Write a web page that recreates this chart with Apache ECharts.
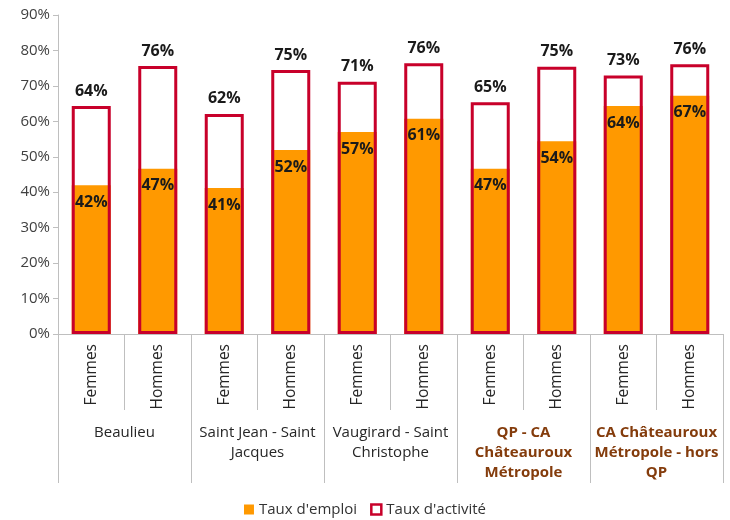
<!DOCTYPE html>
<html>
<head>
<meta charset="utf-8">
<script src="https://cdn.jsdelivr.net/npm/echarts@6/dist/echarts.min.js"></script>
<style>
  html, body { margin: 0; padding: 0; background: #fff; }
  #chart { width: 730px; height: 520px; }
</style>
</head>
<body>
<div id="chart"></div>
<script>
// sous-catégories (une barre chacune)
var sexes = ['Femmes', 'Hommes', 'Femmes', 'Hommes', 'Femmes', 'Hommes', 'Femmes', 'Hommes', 'Femmes', 'Hommes'];
// regroupements
var zones = ['Beaulieu', 'Saint Jean - Saint\nJacques', 'Vaugirard - Saint\nChristophe', 'QP - CA\nChâteauroux\nMétropole', 'CA Châteauroux\nMétropole - hors\nQP'];
var zonesEnGras = [false, false, false, true, true];

var tauxEmploi = [42.0, 46.6, 41.2, 51.9, 57.0, 60.7, 46.6, 54.4, 64.3, 67.2];
var tauxActivite = [64.3, 75.6, 62.1, 74.5, 71.2, 76.4, 65.4, 75.4, 72.9, 76.1];

var ORANGE = '#FF9900';
var ROUGE = '#C8002A';
var GRIS = '#BFBFBF';
var FONT = '"Open Sans", "Noto Sans", sans-serif';

var myChart = echarts.init(document.getElementById('chart'));

var option = {
  animation: false,
  textStyle: { fontFamily: FONT },
  grid: { left: 58, right: 7, top: 15, bottom: 186 },
  legend: {
    bottom: -2,
    left: 'center',
    itemWidth: 10,
    itemHeight: 10,
    itemGap: 13,
    textStyle: { fontFamily: FONT, fontSize: 15, color: '#333' },
    data: [
      { name: "Taux d'emploi", icon: 'rect', itemStyle: { color: ORANGE, borderWidth: 0 } },
      { name: "Taux d'activité", icon: 'rect', itemStyle: { color: '#fff', borderColor: ROUGE, borderWidth: 2.5 } }
    ]
  },
  xAxis: [
    {
      type: 'category',
      data: sexes,
      position: 'bottom',
      axisLine: { lineStyle: { color: GRIS, width: 1 } },
      axisTick: { show: true, interval: 0, length: 76, lineStyle: { color: GRIS } },
      axisLabel: {
        interval: 0,
        rotate: 90,
        margin: 10,
        fontSize: 15.5,
        color: '#262626',
        fontFamily: FONT
      }
    },
    {
      type: 'category',
      data: zones,
      position: 'bottom',
      axisLine: { show: false },
      axisTick: { show: true, interval: 0, length: 149, lineStyle: { color: GRIS } },
      axisLabel: {
        interval: 0,
        margin: 89,
        verticalAlign: 'top',
        fontFamily: FONT,
        formatter: function (v, i) {
          return zonesEnGras[i] ? '{b|' + v + '}' : '{n|' + v + '}';
        },
        rich: {
          n: { fontSize: 15, lineHeight: 20, color: '#262626', fontFamily: FONT, align: 'center' },
          b: { fontSize: 15, lineHeight: 20, color: '#843C0C', fontWeight: 'bold', fontFamily: FONT, align: 'center' }
        }
      }
    }
  ],
  yAxis: {
    type: 'value',
    min: 0,
    max: 90,
    interval: 10,
    splitLine: { show: false },
    axisLine: { show: true, lineStyle: { color: GRIS } },
    axisTick: { show: true, length: 5, lineStyle: { color: GRIS } },
    axisLabel: {
      formatter: '{value}%',
      fontSize: 15,
      color: '#404040',
      margin: 8,
      fontFamily: FONT
    }
  },
  series: [
    {
      name: "Taux d'emploi",
      type: 'bar',
      xAxisIndex: 0,
      barWidth: 39,
      barGap: '-100%',
      z: 2,
      itemStyle: { color: ORANGE },
      label: {
        show: true,
        position: 'insideTop',
        distance: 9,
        fontSize: 16,
        fontWeight: 'bold',
        color: '#1a1a1a',
        fontFamily: FONT,
        formatter: function (p) { return Math.round(p.value) + '%'; }
      },
      data: tauxEmploi
    },
    {
      name: "Taux d'activité",
      type: 'bar',
      xAxisIndex: 0,
      barWidth: 39,
      barGap: '-100%',
      z: 3,
      itemStyle: { color: 'rgba(255,255,255,0)', borderColor: ROUGE, borderWidth: 3 },
      label: {
        show: true,
        position: 'top',
        distance: 7,
        fontSize: 16,
        fontWeight: 'bold',
        color: '#1a1a1a',
        fontFamily: FONT,
        formatter: function (p) { return Math.round(p.value) + '%'; }
      },
      data: tauxActivite
    }
  ]
};

option && myChart.setOption(option);
</script>
</body>
</html>
